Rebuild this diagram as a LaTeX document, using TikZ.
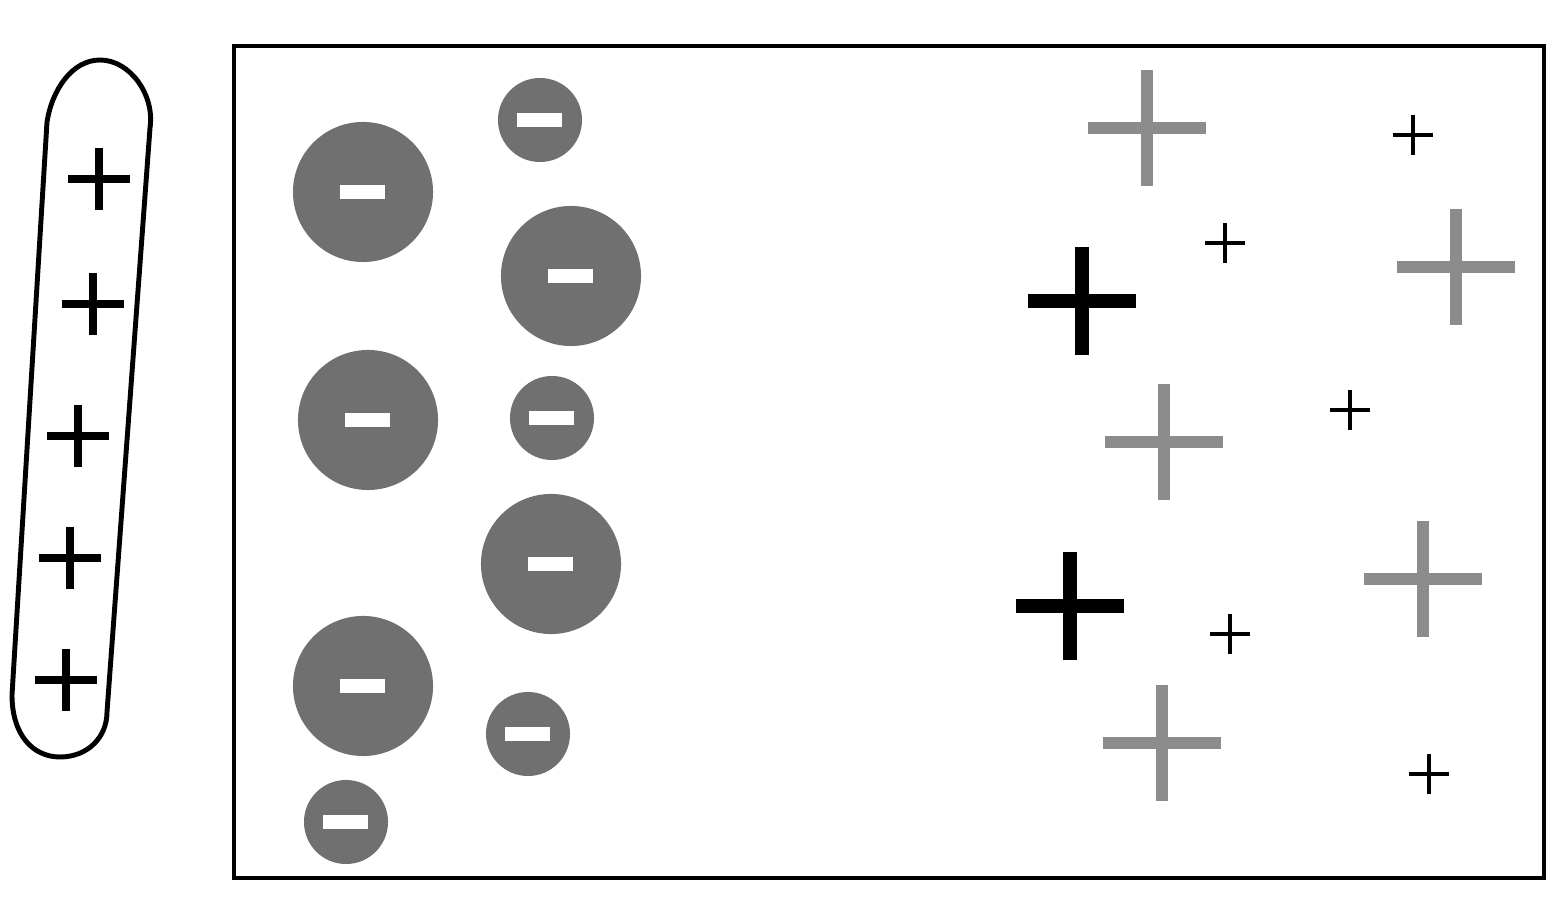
\documentclass[tikz,border=0pt]{standalone}
\usepackage{tikz}
\usetikzlibrary{calc}
\definecolor{iongray}{RGB}{112,112,112}
\definecolor{plusgray}{RGB}{140,140,140}
\tikzset{
  rod/.style={draw=black, line width=1.4pt, line join=round},
  frame/.style={draw=black, line width=1.4pt},
  anion/.style={fill=iongray},
  minusbar/.style={fill=white},
  rodplus/.style={draw=black, line width=2pt},
  grayplus/.style={draw=plusgray, line width=3.6pt},
  boldplus/.style={draw=black, line width=4pt},
  thinplus/.style={draw=black, line width=1.4pt}
}

\begin{document}
\begin{tikzpicture}[x=0.01cm, y=-0.01cm]
  \useasboundingbox (0,0) rectangle (1566,910);

  % Charged rod
  \draw[rod] (47,122) .. controls (52,90) and (72,60) .. (100,60)
    .. controls (130,60) and (155,95) .. (150,128)
    -- (107,712)
    .. controls (107,737) and (88,757) .. (60,757)
    .. controls (33,757) and (12,735) .. (12,695) -- cycle;
  \foreach \x/\y in {99/179, 93/304, 78/436, 70/558, 66/680}
    \draw[rodplus] (\x-31,\y) -- (\x+31,\y) (\x,\y-31) -- (\x,\y+31);

  % Conductor
  \draw[frame] (234,46) rectangle (1544,878);

  % Negative charges
  \foreach \x/\y in {363/192, 571/276, 368/420, 551/564, 363/686} {
    \fill[anion] (\x,\y) circle (0.7cm);
    \fill[minusbar] (\x-23,\y-7) rectangle (\x+22,\y+7);
  }
  \foreach \x/\y in {540/120, 552/418, 528/734, 346/822} {
    \fill[anion] (\x,\y) circle (0.42cm);
    \fill[minusbar] (\x-23,\y-7) rectangle (\x+22,\y+7);
  }

  % Positive charges
  \foreach \x/\y in {1147/128, 1456/267, 1164/442, 1423/579, 1162/743}
    \draw[grayplus] (\x-59,\y) -- (\x+59,\y) (\x,\y-58) -- (\x,\y+58);
  \foreach \x/\y in {1082/301, 1070/606}
    \draw[boldplus] (\x-54,\y) -- (\x+54,\y) (\x,\y-54) -- (\x,\y+54);
  \foreach \x/\y in {1413/135, 1225/243, 1350/410, 1230/634, 1429/774}
    \draw[thinplus] (\x-20,\y) -- (\x+20,\y) (\x,\y-20) -- (\x,\y+20);
\end{tikzpicture}
\end{document}
